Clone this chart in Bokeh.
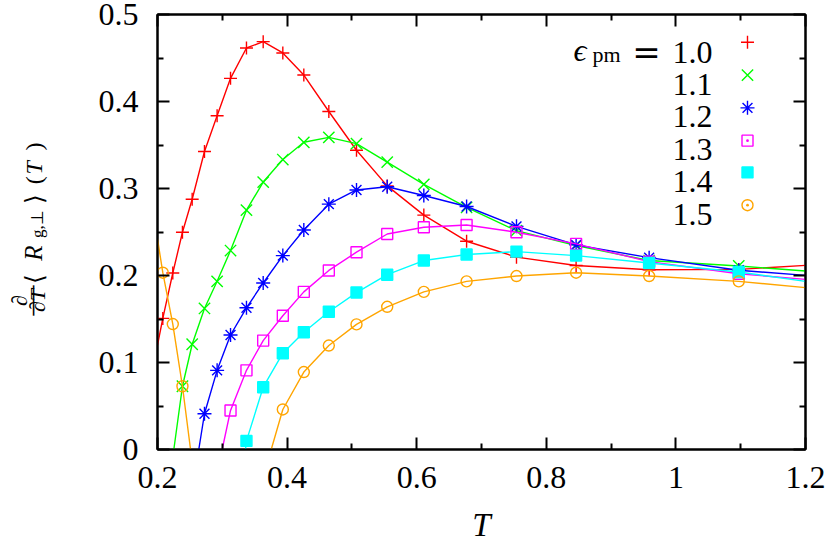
from bokeh.plotting import figure
from bokeh.layouts import row
from bokeh.models import Range1d, LinearAxis, FixedTicker, Label, CustomJSTickFormatter
from bokeh.embed import file_html
from bokeh.resources import INLINE

# ---------------- data ----------------
T_all = [0.2082, 0.2236, 0.2385, 0.2535, 0.2725, 0.2920, 0.3127, 0.3373, 0.3631,
         0.3934, 0.4258, 0.4644, 0.5071, 0.5545, 0.6110, 0.6770, 0.7540, 0.8460,
         0.9587, 1.0970]

eps_labels = ["1.0", "1.1", "1.2", "1.3", "1.4", "1.5"]

T_10 = T_all
y_10 = [0.1507, 0.2029, 0.2497, 0.2877, 0.3425, 0.3836, 0.4266, 0.4615, 0.4688,
        0.4558, 0.4304, 0.3885, 0.3440, 0.3030, 0.2694, 0.2394, 0.2211, 0.2115,
        0.2066, 0.2070]
curve_10_start = (0.200, 0.120)
curve_10_end = (1.200, 0.2116)

T_11 = T_all[2:]
y_11 = [0.0727, 0.1210, 0.1621, 0.1933, 0.2287, 0.2751, 0.3074, 0.3333, 0.3531,
        0.3588, 0.3516, 0.3303, 0.3048, 0.2782, 0.2515, 0.2344, 0.2172, 0.2110]
curve_11_start = (0.2252, 0.0)
curve_11_end = (1.200, 0.2051)

T_12 = T_all[4:]
y_12 = [0.0411, 0.0910, 0.1316, 0.1629, 0.1914, 0.2229, 0.2523, 0.2820, 0.2983,
        0.3020, 0.2919, 0.2793, 0.2565, 0.2352, 0.2205, 0.2060]
curve_12_start = (0.2637, 0.0)
curve_12_end = (1.200, 0.2001)

T_13 = T_all[6:]
y_13 = [0.0449, 0.0910, 0.1252, 0.1538, 0.1812, 0.2058, 0.2268, 0.2477, 0.2554,
        0.2580, 0.2497, 0.2363, 0.2160, 0.2020]
curve_13_start = (0.2998, 0.0)
curve_13_end = (1.200, 0.1956)

T_14 = T_all[7:]
y_14 = [0.0099, 0.0716, 0.1107, 0.1347, 0.1583, 0.1804, 0.2009, 0.2172, 0.2241,
        0.2275, 0.2229, 0.2143, 0.2040]
curve_14_start = (0.3358, 0.0)
curve_14_end = (1.200, 0.1933)

T_15 = T_all[9:]
y_15 = [0.0460, 0.0890, 0.1195, 0.1438, 0.1640, 0.1812, 0.1933, 0.1994, 0.2032,
        0.1994, 0.1933]
curve_15_start = (0.3755, 0.0)
curve_15_end = (1.200, 0.1861)

T_15_low = T_all[0:3]
y_15_low = [0.2032, 0.1442, 0.0727]
curve_15_low_start = (0.200, 0.242)
curve_15_low_end = (0.251, 0.0)

x_ticks = [0.2, 0.4, 0.6, 0.8, 1.0, 1.2]
x_tick_labels = ["0.2", "0.4", "0.6", "0.8", "1", "1.2"]
x_minor = [0.3, 0.5, 0.7, 0.9, 1.1]
y_ticks = [0.0, 0.1, 0.2, 0.3, 0.4, 0.5]
y_tick_labels = ["0", "0.1", "0.2", "0.3", "0.4", "0.5"]
y_minor = [0.05, 0.15, 0.25, 0.35, 0.45]

SERIF = "Liberation Serif"
STRIP = 50  # width of the strip that carries the vertical axis title
B_TOP, B_BOTTOM = 14, 93

# ---------------- main figure ----------------
p = figure(width=830 - STRIP, height=545, x_range=Range1d(0.2, 1.2), y_range=Range1d(0.0, 0.5),
           output_backend="svg", toolbar_location=None,
           min_border_left=157 - STRIP, min_border_right=25, min_border_top=B_TOP,
           min_border_bottom=B_BOTTOM, background_fill_color="white", border_fill_color="white")
p.grid.visible = False
p.outline_line_color = "black"
p.outline_line_width = 2
# pixel-like helper ranges (frame spans 157..805 horizontally, 452..14 vertically)
p.extra_x_ranges = {"px": Range1d(157, 805)}
p.extra_y_ranges = {"px": Range1d(452, 14)}


def style_axis(ax, labels=True):
    ax.axis_line_color = "black"
    ax.axis_line_width = 2
    ax.major_tick_in = 12
    ax.major_tick_out = 0
    ax.minor_tick_in = 6
    ax.minor_tick_out = 0
    ax.major_tick_line_width = 2
    ax.minor_tick_line_width = 2
    ax.major_tick_line_color = "black"
    ax.minor_tick_line_color = "black"
    if labels:
        ax.major_label_text_font = SERIF
        ax.major_label_text_font_size = "32px"
        ax.major_label_text_color = "black"
    else:
        ax.formatter = CustomJSTickFormatter(code="return ''")
        ax.major_label_text_font_size = "1px"
        ax.major_label_standoff = 0


p.xaxis.ticker = FixedTicker(ticks=x_ticks, minor_ticks=x_minor)
p.yaxis.ticker = FixedTicker(ticks=y_ticks, minor_ticks=y_minor)
p.xaxis.major_label_overrides = {v: s for v, s in zip(x_ticks, x_tick_labels)}
p.yaxis.major_label_overrides = {v: s for v, s in zip(y_ticks, y_tick_labels)}
style_axis(p.xaxis[0])
style_axis(p.yaxis[0])
p.xaxis.major_label_standoff = 17
p.yaxis.major_label_standoff = 19

# x-axis title
p.xaxis.axis_label = "T"
p.xaxis.axis_label_text_font = SERIF
p.xaxis.axis_label_text_font_size = "33px"
p.xaxis.axis_label_text_font_style = "italic"
p.xaxis.axis_label_text_color = "black"
p.xaxis.axis_label_standoff = 16

top = LinearAxis(ticker=FixedTicker(ticks=x_ticks, minor_ticks=x_minor))
style_axis(top, labels=False)
p.add_layout(top, "above")
right = LinearAxis(ticker=FixedTicker(ticks=y_ticks, minor_ticks=y_minor))
style_axis(right, labels=False)
p.add_layout(right, "right")

# ---------------- series ----------------
series = [
    (T_10, y_10, curve_10_start, curve_10_end, "#ff0000", dict(marker="cross", size=13, fill_alpha=0), "cross"),
    (T_11, y_11, curve_11_start, curve_11_end, "#00ff00", dict(marker="x", size=16, fill_alpha=0), "x"),
    (T_12, y_12, curve_12_start, curve_12_end, "#0000ff", dict(marker="asterisk", size=14, fill_alpha=0), "asterisk"),
    (T_13, y_13, curve_13_start, curve_13_end, "#ff00ff", dict(marker="square", size=11, fill_alpha=0), "square_dot"),
    (T_14, y_14, curve_14_start, curve_14_end, "#00ffff", dict(marker="square", size=11, fill_alpha=1), "square"),
    (T_15, y_15, curve_15_start, curve_15_end, "#ffa500", dict(marker="circle", size=11, fill_alpha=0), "circle_dot"),
]

for T, y, cs, ce, col, mk, _ in series:
    p.line([cs[0]] + T + [ce[0]], [cs[1]] + y + [ce[1]], line_color=col, line_width=1.4)
    if col == "#ffa500":
        p.line([curve_15_low_start[0]] + T_15_low + [curve_15_low_end[0]],
               [curve_15_low_start[1]] + y_15_low + [curve_15_low_end[1]],
               line_color=col, line_width=1.4)
        p.scatter(T_15_low, y_15_low, line_color=col, fill_color=col, line_width=1.4, **mk)
    p.scatter(T, y, line_color=col, fill_color=col, line_width=1.4, **mk)

# ---------------- legend (label left, symbol right, as in the reference) ----------------
leg_y_text = [52, 84.6, 117.2, 149.8, 182.4, 215]
leg_y_mark = [42, 75, 108, 141, 173, 206]
for (T, y, cs, ce, col, mk, lmk), lab, yt_, ym in zip(series, eps_labels, leg_y_text, leg_y_mark):
    p.add_layout(Label(x=712, y=yt_, x_range_name="px", y_range_name="px", text=lab,
                       text_font=SERIF, text_font_size="32px", text_align="right",
                       text_baseline="alphabetic", text_color="black"))
    p.scatter([747], [ym], x_range_name="px", y_range_name="px", marker=lmk,
              size=mk["size"], line_color=col, fill_color=col, fill_alpha=mk["fill_alpha"],
              line_width=1.4)

p.add_layout(Label(x=573, y=50, x_range_name="px", y_range_name="px", text="\u03f5",
                   text_font=SERIF, text_font_size="32px", text_font_style="italic",
                   text_baseline="alphabetic", text_color="black"))
p.add_layout(Label(x=592, y=54, x_range_name="px", y_range_name="px", text="pm",
                   text_font=SERIF, text_font_size="22px",
                   text_baseline="alphabetic", text_color="black"))
p.add_layout(Label(x=646, y=52, x_range_name="px", y_range_name="px", text="=",
                   text_font="DejaVu Serif", text_font_size="34px", text_align="center",
                   text_baseline="alphabetic", text_color="black"))

# ---------------- strip carrying the vertical y-axis title ----------------
# same top/bottom borders as the main figure, so its vertical pixel range is 14..452
s = figure(width=STRIP, height=545, x_range=Range1d(0, STRIP), y_range=Range1d(452, 14),
           output_backend="svg", toolbar_location=None, x_axis_type=None, y_axis_type=None,
           min_border_left=0, min_border_right=0, min_border_top=B_TOP,
           min_border_bottom=B_BOTTOM, background_fill_color="white", border_fill_color="white")
s.outline_line_color = None
s.grid.visible = False


def vlab(text, x, y, size, align="left", style="normal", font=SERIF):
    s.add_layout(Label(x=x, y=y, text=text,
                       text_font=font, text_font_size=size, text_font_style=style,
                       text_align=align, text_baseline="alphabetic",
                       angle=90, angle_units="deg", text_color="black"))


vlab("\u2202", 19, 302, "22px", align="center", style="italic")
vlab("\u2014", 30, 302, "30px", align="center")
vlab("\u2202T", 37, 302, "22px", align="center", style="italic")
vlab("\u27e8", 34, 285, "25px")
vlab("R", 33, 262, "25px", style="italic")
vlab("g,\u22a5", 37, 239, "17px")
vlab("\u27e9", 34, 205, "25px")
vlab("(", 33, 185, "24px")
vlab("T", 33, 175, "24px", style="italic")
vlab(")", 33, 151, "24px")

layout = row(s, p, spacing=0)
open("out.html", "w").write(file_html(layout, INLINE))
